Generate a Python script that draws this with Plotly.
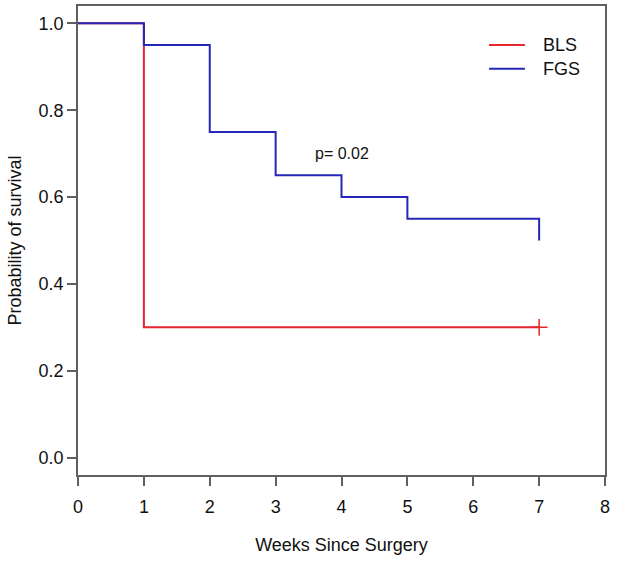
import plotly.graph_objects as go

# BLS group (step data)
bls_time = [0, 1, 1, 7]
bls_surv = [1.0, 1.0, 0.3, 0.3]
bls_censor_time = [7]
bls_censor_surv = [0.3]

# FGS group (step data)
fgs_time = [0, 1, 2, 3, 4, 5, 7, 7]
fgs_surv = [1.0, 0.95, 0.75, 0.65, 0.60, 0.55, 0.55, 0.50]

series_names = ["BLS", "FGS"]

x_ticks = [0, 1, 2, 3, 4, 5, 6, 7, 8]
y_ticks = [0.0, 0.2, 0.4, 0.6, 0.8, 1.0]
y_tick_labels = ["0.0", "0.2", "0.4", "0.6", "0.8", "1.0"]

pval_text = "p= 0.02"
pval_x, pval_y = 4.0, 0.70

RED = "#e5262f"
BLUE = "#2626b8"
FONT = "Liberation Sans, Arial, sans-serif"
colors = [RED, BLUE]

fig = go.Figure()
fig.add_trace(go.Scatter(x=bls_time, y=bls_surv, mode="lines", name=series_names[0],
                         line=dict(color=RED, width=2, shape="hv")))
fig.add_trace(go.Scatter(x=fgs_time, y=fgs_surv, mode="lines", name=series_names[1],
                         line=dict(color=BLUE, width=2, shape="hv")))
fig.add_trace(go.Scatter(x=bls_censor_time, y=bls_censor_surv, mode="markers",
                         showlegend=False,
                         marker=dict(symbol="cross-thin", size=12,
                                     line=dict(color=RED, width=1.5))))

fig.add_annotation(x=pval_x, y=pval_y, text=pval_text, showarrow=False,
                   font=dict(size=16, color="#111111", family=FONT))

# manual legend (R style, no box)
legend_y = [0.917, 0.866]
for name, col, ly in zip(series_names, colors, legend_y):
    fig.add_shape(type="line", xref="paper", yref="paper",
                  x0=0.780, x1=0.848, y0=ly, y1=ly,
                  line=dict(color=col, width=2))
    fig.add_annotation(xref="paper", yref="paper", x=0.878, y=ly, text=name,
                       showarrow=False, xanchor="left", yanchor="middle",
                       font=dict(size=18, color="#111111", family=FONT))

axis_common = dict(showline=True, linecolor="#606060", linewidth=1.5, mirror=True,
                   ticks="outside", ticklen=9, tickcolor="#606060", tickwidth=1.5,
                   showgrid=False, zeroline=False, automargin=False,
                   tickfont=dict(size=18, color="#111111", family=FONT))

fig.update_xaxes(range=[0, 8], tickvals=x_ticks,
                 title=dict(text="Weeks Since Surgery", standoff=22,
                            font=dict(size=18, color="#111111", family=FONT)),
                 ticklabelstandoff=6, **axis_common)
fig.update_yaxes(range=[-0.04, 1.04], tickvals=y_ticks, ticktext=y_tick_labels,
                 title=dict(text="Probability of survival", standoff=12,
                            font=dict(size=18, color="#111111", family=FONT)),
                 ticklabelstandoff=0, **axis_common)

fig.update_layout(
    width=628, height=565,
    margin=dict(l=78, r=23, t=6, b=90),
    plot_bgcolor="white", paper_bgcolor="white",
    font=dict(family=FONT, size=18, color="#111111"),
    showlegend=False,
)

fig.write_html("out.html", config={"displayModeBar": False},
               post_script="document.body.style.margin='0';document.body.style.overflow='hidden';")
